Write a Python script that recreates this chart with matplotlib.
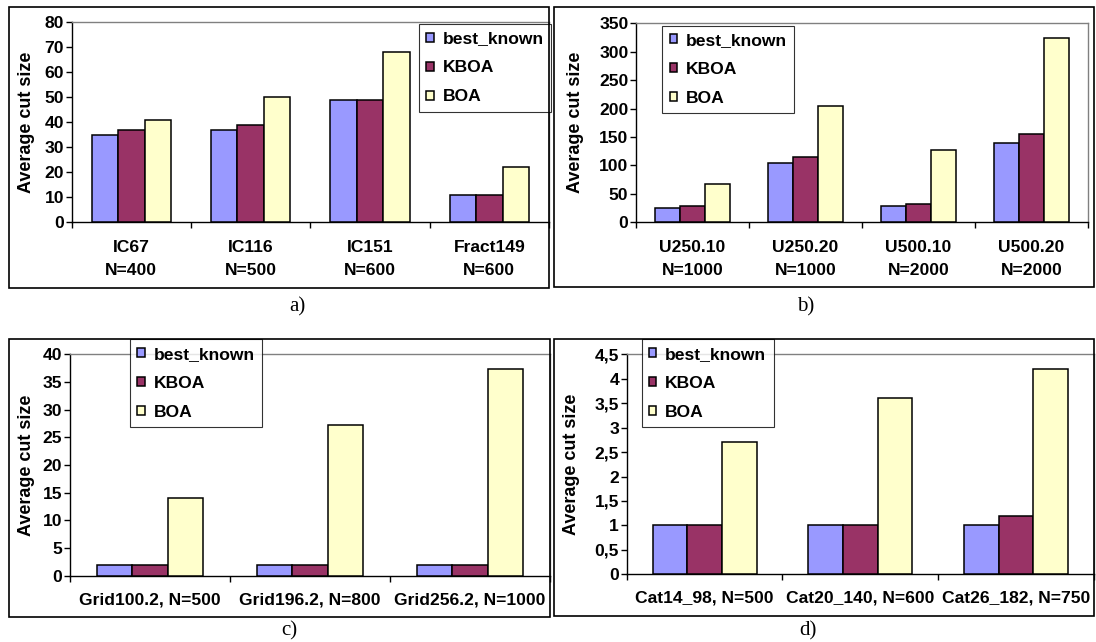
import numpy as np
import matplotlib
matplotlib.use('Agg')
import matplotlib.pyplot as plt
from matplotlib.patches import Rectangle
from matplotlib.ticker import FuncFormatter
from matplotlib.transforms import blended_transform_factory

plt.rcParams['font.family'] = ['Liberation Sans', 'DejaVu Sans']
plt.rcParams['font.weight'] = 'bold'

# data
series = ['best_known', 'KBOA', 'BOA']
colors = ['#9999FF', '#993366', '#FFFFCC']

cats_a = ['IC67\nN=400', 'IC116\nN=500', 'IC151\nN=600', 'Fract149\nN=600']
best_a = [35, 37, 49, 11]
kboa_a = [37, 39, 49, 11]
boa_a = [41, 50, 68, 22]

cats_b = ['U250.10\nN=1000', 'U250.20\nN=1000', 'U500.10\nN=2000', 'U500.20\nN=2000']
best_b = [26, 104, 28, 140]
kboa_b = [28, 114, 33, 155]
boa_b = [67, 204, 128, 324]

cats_c = ['Grid100.2, N=500', 'Grid196.2, N=800', 'Grid256.2, N=1000']
best_c = [2, 2, 2]
kboa_c = [2, 2, 2]
boa_c = [14, 27.3, 37.3]

cats_d = ['Cat14_98, N=500', 'Cat20_140, N=600', 'Cat26_182, N=750']
best_d = [1, 1, 1]
kboa_d = [1, 1, 1.2]
boa_d = [2.7, 3.6, 4.2]

W, H = 1096, 642
fig = plt.figure(figsize=(W/100, H/100), dpi=100)
FS = 12.6

def rect_px(l, t, r, b):
    return [l/W, 1 - b/H, (r-l)/W, (b-t)/H]

def frame(l, t, r, b):
    fig.add_artist(Rectangle((l/W, 1 - b/H), (r-l)/W, (b-t)/H, transform=fig.transFigure,
                             fill=False, edgecolor='black', linewidth=1.2))

def panel(box, cats, vals, ymax, ystep, xmax, leg_xy, ylab_x, pad, comma=False):
    ax = fig.add_axes(rect_px(*box))
    n = len(cats)
    x = np.arange(n)
    w = 1/4.5
    for i, v in enumerate(vals):
        ax.bar(x + (i-1)*w, v, w, color=colors[i], edgecolor='black', linewidth=1.1,
               label=series[i], zorder=3)
    ax.set_xlim(-0.5, xmax)
    ax.set_ylim(0, ymax)
    ax.set_yticks(np.arange(0, ymax + ystep/2, ystep))
    if comma:
        ax.yaxis.set_major_formatter(FuncFormatter(lambda v, p: ('%g' % v).replace('.', ',')))
    ax.set_xticks(x)
    ax.set_xticklabels(cats, fontsize=FS, fontweight='bold', linespacing=1.6)
    ax.set_xticks(np.arange(-0.5, n), minor=True)
    ax.tick_params(axis='x', which='major', length=0, pad=pad)
    ax.tick_params(axis='x', which='minor', length=4, width=1, direction='out')
    ax.tick_params(axis='y', length=4, width=1, direction='out', pad=1.5, labelsize=FS)
    for s in ['top', 'right']:
        ax.spines[s].set_color('#808080')
        ax.spines[s].set_linewidth(1)
    for s in ['left', 'bottom']:
        ax.spines[s].set_linewidth(1)
    ax.set_ylabel('Average cut size', fontsize=13, fontweight='bold')
    ax.yaxis.set_label_coords(ylab_x/W, 0.5,
                              transform=blended_transform_factory(fig.transFigure, ax.transAxes))
    leg = ax.legend(loc='upper left', bbox_to_anchor=(leg_xy[0]/W, 1 - leg_xy[1]/H),
                    bbox_transform=fig.transFigure, fontsize=FS, frameon=True, fancybox=False,
                    borderpad=0.42, labelspacing=0.8, handlelength=0.42, handleheight=0.42,
                    handletextpad=0.5, borderaxespad=0)
    leg.get_frame().set_edgecolor('black')
    leg.get_frame().set_linewidth(0.8)
    leg.set_zorder(5)
    return ax

# frames
frame(9.3, 7, 549, 288)
frame(554, 7, 1094, 287)
frame(9.3, 339.3, 550, 617)
frame(554.3, 339.3, 1094.3, 616)

panel((71.7, 22.3, 549, 222.3), cats_a, [best_a, kboa_a, boa_a], 80, 10,
      3.5 - 5/120.6, (419, 24), 35, 13)
panel((636, 23.3, 1088, 222.3), cats_b, [best_b, kboa_b, boa_b], 350, 50,
      3.5, (662.3, 25.7), 584, 13)
panel((70, 354.3, 550, 575.7), cats_c, [best_c, kboa_c, boa_c], 40, 5,
      2.5 - 1/160, (130, 339.3), 35, 12)
panel((626.7, 354.3, 1094, 574.3), cats_d, [best_d, kboa_d, boa_d], 4.5, 0.5,
      2.5 - 1/156, (641.7, 339.3), 580, 11.5, comma=True)

cap = dict(fontsize=15, family=['Liberation Serif', 'DejaVu Serif'], weight='normal',
           ha='center', va='center')
fig.text(297/W, 1 - 307/H, 'a)', **cap)
fig.text(806/W, 1 - 307/H, 'b)', **cap)
fig.text(289/W, 1 - 631/H, 'c)', **cap)
fig.text(808/W, 1 - 631/H, 'd)', **cap)

fig.savefig('out.png', dpi=100)
